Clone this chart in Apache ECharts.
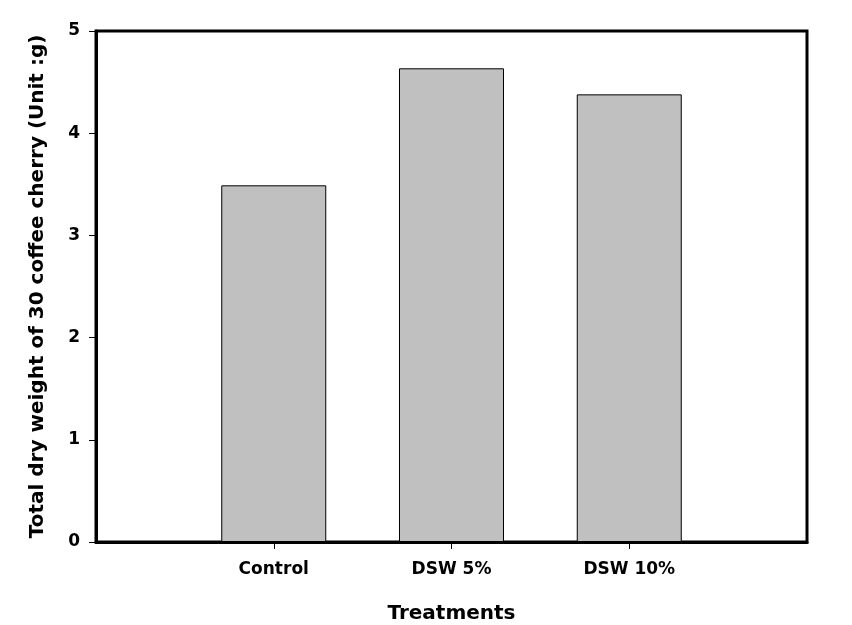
<!DOCTYPE html>
<html>
<head>
<meta charset="utf-8">
<script src="https://cdn.jsdelivr.net/npm/echarts@6/dist/echarts.min.js"></script>
<style>html,body{margin:0;padding:0;background:#fff}#c{width:852px;height:625px}</style>
</head>
<body>
<div id="c"></div>
<script>
const categories = ['Control', 'DSW 5%', 'DSW 10%'];
const values = [3.49, 4.635, 4.38];
const yTicks = [0, 1, 2, 3, 4, 5];

const axisCats = [''].concat(categories, ['']);
const axisVals = [null].concat(values, [null]);

const chart = echarts.init(document.getElementById('c'), null, {renderer: 'canvas'});
const font = '"DejaVu Sans", Arial, sans-serif';
chart.setOption({
  animation: false,
  backgroundColor: '#fff',
  grid: {left: 96, right: 45, top: 31, bottom: 83, show: true, borderColor: '#000', borderWidth: 3,
    backgroundColor: 'transparent', containLabel: false, outerBoundsMode: 'none'},
  xAxis: {
    type: 'category',
    data: axisCats,
    boundaryGap: false,
    name: 'Treatments',
    nameLocation: 'middle',
    nameGap: 62,
    nameTextStyle: {fontFamily: font, fontWeight: 'bold', fontSize: 20, color: '#000'},
    axisLine: {lineStyle: {color: '#000', width: 3}},
    axisTick: {show: true, length: 7, lineStyle: {color: '#000', width: 1},
      interval: function (i, v) { return v !== ''; }},
    axisLabel: {fontFamily: font, fontWeight: 'bold', fontSize: 17, color: '#000', margin: 19,
      interval: 0},
    splitLine: {show: false}
  },
  yAxis: {
    type: 'value',
    min: yTicks[0],
    max: yTicks[yTicks.length - 1],
    interval: 1,
    name: 'Total dry weight of 30 coffee cherry (Unit :g)',
    nameLocation: 'middle',
    nameGap: 48,
    nameTextStyle: {fontFamily: font, fontWeight: 'bold', fontSize: 20, color: '#000'},
    axisLine: {show: true, lineStyle: {color: '#000', width: 3}},
    axisTick: {show: true, length: 7, lineStyle: {color: '#000', width: 1}},
    axisLabel: {fontFamily: font, fontWeight: 'bold', fontSize: 17, color: '#000', margin: 16},
    splitLine: {show: false}
  },
  series: [{
    type: 'bar',
    data: axisVals,
    barWidth: 105,
    itemStyle: {color: '#c0c0c0', borderColor: '#000', borderWidth: 1}
  }]
});
</script>
</body>
</html>
